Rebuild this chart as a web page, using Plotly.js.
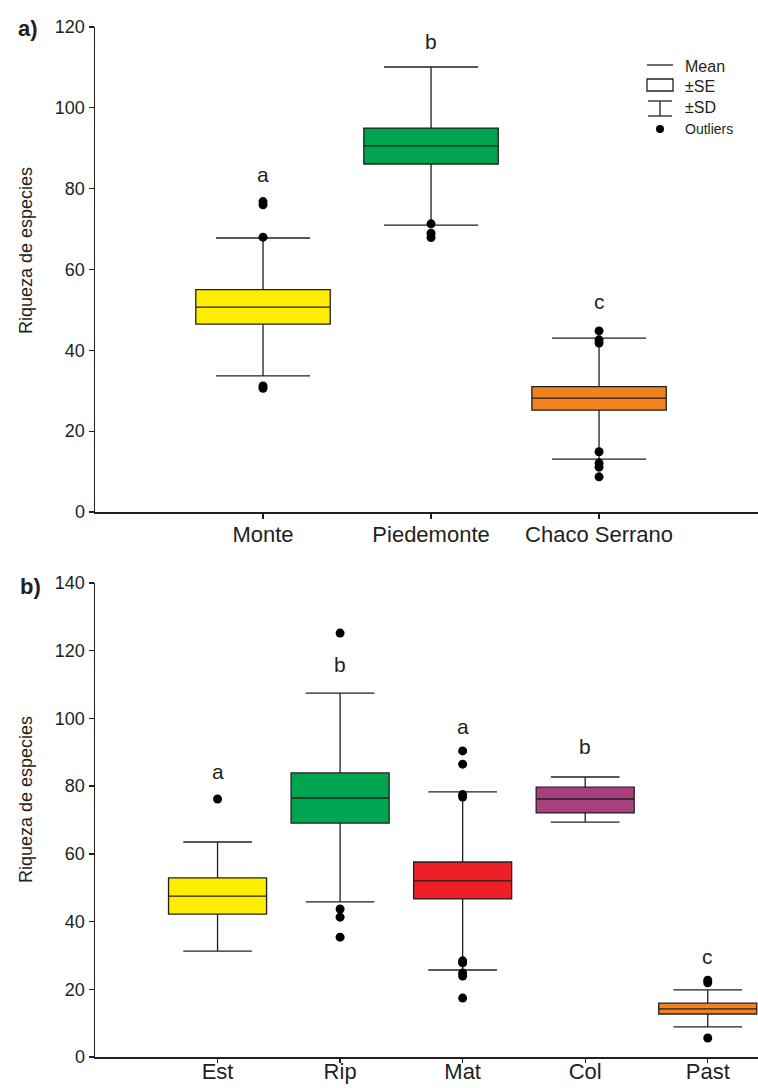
<!DOCTYPE html>
<html><head><meta charset="utf-8">
<script src="https://cdn.plot.ly/plotly-3.0.1.min.js"></script>
<style>html,body{margin:0;padding:0;background:#fff}</style>
</head><body><div id="chart" style="width:758px;height:1088px"></div>
<script>
// ---- Panel a) ----
const catsA = ['Monte', 'Piedemonte', 'Chaco Serrano'];
const meanA = [50.7, 90.6, 28.2];
const seLowA = [46.5, 86.1, 25.2];
const seHighA = [55.0, 95.0, 31.0];
const sdLowA = [33.7, 71.0, 13.1];
const sdHighA = [67.8, 110.1, 43.0];
const colorsA = ['#FFED00', '#00A551', '#F0831E'];
const outlierCatA = ['Monte', 'Monte', 'Monte', 'Monte', 'Monte',
  'Piedemonte', 'Piedemonte', 'Piedemonte',
  'Chaco Serrano', 'Chaco Serrano', 'Chaco Serrano', 'Chaco Serrano', 'Chaco Serrano', 'Chaco Serrano', 'Chaco Serrano'];
const outlierValA = [76.8, 76.0, 68.0, 31.2, 30.6,
  71.3, 69.0, 67.9,
  44.8, 42.6, 41.8, 14.9, 12.1, 11.1, 8.7];
const lettersA = ['a', 'b', 'c'];
const letterYA = [83.4, 116.3, 52.2];
const yTicksA = [0, 20, 40, 60, 80, 100, 120];

// ---- Panel b) ----
const catsB = ['Est', 'Rip', 'Mat', 'Col', 'Past'];
const meanB = [47.5, 76.5, 52.0, 76.2, 14.2];
const seLowB = [42.2, 69.1, 46.7, 72.1, 12.7];
const seHighB = [52.9, 83.9, 57.6, 79.7, 15.9];
const sdLowB = [31.3, 45.8, 25.7, 69.4, 8.9];
const sdHighB = [63.5, 107.5, 78.3, 82.7, 19.8];
const colorsB = ['#FFED00', '#00A551', '#EE2027', '#A8407F', '#F0831E'];
const outlierCatB = ['Est', 'Rip', 'Rip', 'Rip', 'Rip',
  'Mat', 'Mat', 'Mat', 'Mat', 'Mat', 'Mat', 'Mat', 'Mat', 'Mat',
  'Past', 'Past', 'Past'];
const outlierValB = [76.2, 125.2, 43.7, 41.3, 35.4,
  90.4, 86.5, 77.5, 76.8, 28.4, 27.8, 24.8, 23.9, 17.4,
  22.7, 21.9, 5.6];
const lettersB = ['a', 'b', 'a', 'b', 'c'];
const letterYB = [84.2, 115.8, 97.5, 91.8, 29.8];
const yTicksB = [0, 20, 40, 60, 80, 100, 120, 140];

const legendLabels = ['Mean', '±SE', '±SD', 'Outliers'];

// ---- build ----
const INK = '#231F20';
const FONT = 'Liberation Sans, Arial, sans-serif';
const W = 758, H = 1088, ML = 95;
const px = x => (x - ML) / (W - ML);
const py = y => (H - y) / H;

const traces = [];
function addPanel(cats, mean, seL, seH, sdL, sdH, colors, oc, ov, xa, ya) {
  cats.forEach((c, i) => {
    traces.push({
      type: 'box', xaxis: xa, yaxis: ya,
      x: [c], q1: [seL[i]], median: [mean[i]], q3: [seH[i]],
      lowerfence: [sdL[i]], upperfence: [sdH[i]],
      width: 0.8, whiskerwidth: 0.7,
      fillcolor: colors[i], line: {color: INK, width: 1.3},
      showlegend: false, hoverinfo: 'skip'
    });
  });
  traces.push({
    type: 'scatter', mode: 'markers', xaxis: xa, yaxis: ya,
    x: oc, y: ov, marker: {color: '#000', size: 9},
    showlegend: false, hoverinfo: 'skip'
  });
}
addPanel(catsA, meanA, seLowA, seHighA, sdLowA, sdHighA, colorsA, outlierCatA, outlierValA, 'x', 'y');
addPanel(catsB, meanB, seLowB, seHighB, sdLowB, sdHighB, colorsB, outlierCatB, outlierValB, 'x2', 'y2');

const annotations = [];
const ann = o => annotations.push(Object.assign({showarrow: false, xanchor: 'center', yanchor: 'middle'}, o));
lettersA.forEach((t, i) => ann({xref: 'x', yref: 'y', x: catsA[i], y: letterYA[i], text: t, font: {size: 21, color: INK, family: FONT}}));
lettersB.forEach((t, i) => ann({xref: 'x2', yref: 'y2', x: catsB[i], y: letterYB[i], text: t, font: {size: 21, color: INK, family: FONT}}));
ann({xref: 'paper', yref: 'paper', x: px(28), y: py(29), text: '<b>a)</b>', font: {size: 22, color: INK, family: FONT}});
ann({xref: 'paper', yref: 'paper', x: px(30), y: py(586), text: '<b>b)</b>', font: {size: 22, color: INK, family: FONT}});
ann({xref: 'paper', yref: 'paper', x: px(26), y: py(251), text: 'Riqueza de especies', textangle: -90, font: {size: 18, color: INK, family: FONT}});
ann({xref: 'paper', yref: 'paper', x: px(26), y: py(800), text: 'Riqueza de especies', textangle: -90, font: {size: 18, color: INK, family: FONT}});
const legY = [66, 86, 108, 129];
legendLabels.forEach((t, i) => ann({xref: 'paper', yref: 'paper', x: px(683), y: py(legY[i]), xanchor: 'left', text: t, font: {size: i === 3 ? 14 : 16, color: INK, family: FONT}}));

const shapes = [
  {type: 'line', xref: 'paper', yref: 'paper', x0: px(647), x1: px(673), y0: py(65), y1: py(65), line: {color: INK, width: 1.3}},
  {type: 'rect', xref: 'paper', yref: 'paper', x0: px(647), x1: px(673), y0: py(79), y1: py(91), line: {color: INK, width: 1.3}},
  {type: 'line', xref: 'paper', yref: 'paper', x0: px(648), x1: px(672), y0: py(101), y1: py(101), line: {color: INK, width: 1.3}},
  {type: 'line', xref: 'paper', yref: 'paper', x0: px(648), x1: px(672), y0: py(116), y1: py(116), line: {color: INK, width: 1.3}},
  {type: 'line', xref: 'paper', yref: 'paper', x0: px(660), x1: px(660), y0: py(101), y1: py(116), line: {color: INK, width: 1.3}},
  {type: 'circle', xref: 'paper', yref: 'paper', x0: px(656), x1: px(664), y0: py(125), y1: py(133), fillcolor: '#000', line: {color: '#000', width: 0}}
];

const axisCommon = {
  showline: true, linecolor: INK, linewidth: 1.5, ticks: 'outside', ticklen: 5,
  tickcolor: INK, tickwidth: 1.3, showgrid: false, zeroline: false, fixedrange: true
};
const layout = {
  width: W, height: H,
  margin: {l: ML, r: 0, t: 0, b: 0},
  paper_bgcolor: '#fff', plot_bgcolor: '#fff',
  font: {family: FONT, color: INK},
  showlegend: false,
  xaxis: Object.assign({}, axisCommon, {anchor: 'y', domain: [0, 1], type: 'category', range: [-1, 2.946], ticklabelstandoff: -3, tickfont: {size: 22, color: INK}}),
  yaxis: Object.assign({}, axisCommon, {anchor: 'x', domain: [py(512), py(27)], range: [0, 120], tickvals: yTicksA, tickfont: {size: 18, color: INK}}),
  xaxis2: Object.assign({}, axisCommon, {anchor: 'y2', domain: [0, 1], type: 'category', range: [-1, 4.41], ticklen: 4, ticklabelstandoff: -10, tickfont: {size: 22, color: INK}}),
  yaxis2: Object.assign({}, axisCommon, {anchor: 'x2', domain: [py(1057), py(583)], range: [0, 140], tickvals: yTicksB, tickfont: {size: 18, color: INK}}),
  annotations: annotations,
  shapes: shapes
};
Plotly.newPlot('chart', traces, layout, {staticPlot: true, displayModeBar: false});
</script>
</body></html>
